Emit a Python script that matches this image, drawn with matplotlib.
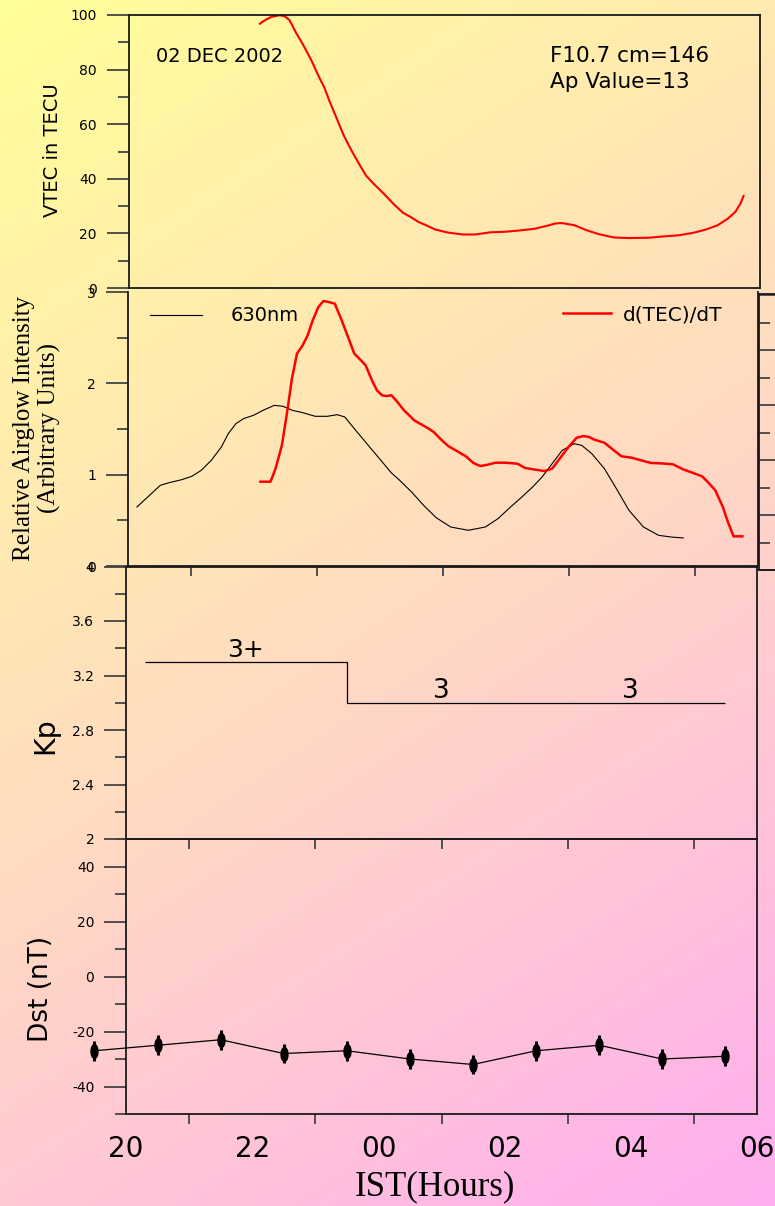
import numpy as np
import matplotlib
matplotlib.use("Agg")
import matplotlib.pyplot as plt
from matplotlib.ticker import MultipleLocator, FixedLocator, FuncFormatter, NullLocator
from matplotlib.colors import LinearSegmentedColormap
from matplotlib.markers import MarkerStyle

plt.rcParams['axes.unicode_minus'] = False
plt.rcParams['font.family'] = ['DejaVu Sans']

W, H, DPI = 775, 1206, 100

# ------------------------------------------------------------------ data
hour_ticks = [20, 22, 24, 26, 28, 30]
hour_labels = ["20", "22", "00", "02", "04", "06"]
odd_hours = [21, 23, 25, 27, 29]

vtec_hours = [22.08, 22.16, 22.26, 22.39, 22.47, 22.55, 22.65, 22.76, 22.90, 23.02,
              23.10, 23.18, 23.29, 23.41, 23.53, 23.65, 23.76, 23.88, 24.04, 24.20,
              24.35, 24.47, 24.59, 24.71, 24.86, 25.06, 25.29, 25.49, 25.73, 25.96,
              26.20, 26.43, 26.63, 26.75, 26.86, 27.06, 27.25, 27.45, 27.69, 27.92,
              28.24, 28.47, 28.71, 28.94, 29.14, 29.33, 29.49, 29.61, 29.69, 29.74]
vtec_values = [96.8, 98.1, 99.3, 99.9, 99.6, 98.1, 93.6, 89.3, 83.2, 77.1,
               73.5, 68.6, 62.5, 55.8, 50.4, 45.5, 41.2, 38.2, 34.6, 30.7,
               27.5, 26.0, 24.2, 23.0, 21.4, 20.3, 19.6, 19.6, 20.4, 20.6,
               21.1, 21.7, 22.8, 23.6, 23.8, 23.0, 21.2, 19.7, 18.5, 18.3,
               18.4, 18.9, 19.3, 20.2, 21.4, 23.0, 25.4, 27.9, 30.9, 33.7]

airglow_hours = [20.15, 20.35, 20.52, 20.66, 20.86, 21.02, 21.17, 21.33, 21.49, 21.60,
                 21.72, 21.84, 22.00, 22.15, 22.33, 22.47, 22.62, 22.78, 22.98, 23.17,
                 23.33, 23.45, 23.60, 23.80, 24.00, 24.19, 24.31, 24.51, 24.70, 24.90,
                 25.13, 25.41, 25.68, 25.88, 26.08, 26.23, 26.43, 26.58, 26.74, 26.90,
                 27.09, 27.21, 27.37, 27.57, 27.76, 27.96, 28.19, 28.43, 28.62, 28.82]
airglow_values = [0.646, 0.774, 0.883, 0.912, 0.945, 0.982, 1.047, 1.157, 1.303, 1.449,
                  1.558, 1.613, 1.650, 1.704, 1.759, 1.748, 1.704, 1.679, 1.639, 1.639,
                  1.657, 1.631, 1.504, 1.339, 1.175, 1.018, 0.945, 0.810, 0.664, 0.529,
                  0.427, 0.391, 0.427, 0.518, 0.646, 0.737, 0.865, 0.974, 1.120, 1.266,
                  1.339, 1.321, 1.230, 1.066, 0.847, 0.609, 0.427, 0.336, 0.318, 0.307]

dtec_hours = [22.11, 22.27, 22.35, 22.45, 22.53, 22.61, 22.69, 22.78, 22.86, 22.94,
              23.03, 23.11, 23.19, 23.29, 23.39, 23.49, 23.60, 23.68, 23.78, 23.88,
              23.96, 24.04, 24.11, 24.19, 24.27, 24.39, 24.47, 24.55, 24.66, 24.78,
              24.86, 24.98, 25.09, 25.21, 25.37, 25.49, 25.60, 25.72, 25.84, 26.00,
              26.19, 26.31, 26.47, 26.62, 26.74, 26.86, 27.00, 27.13, 27.24, 27.33,
              27.41, 27.57, 27.72, 27.84, 28.00, 28.15, 28.31, 28.47, 28.66, 28.82,
              28.98, 29.12, 29.21, 29.33, 29.45, 29.53, 29.62, 29.76]
dtec_values = [0.923, 0.923, 1.066, 1.321, 1.668, 2.051, 2.325, 2.416, 2.526, 2.690,
               2.836, 2.901, 2.891, 2.872, 2.708, 2.526, 2.325, 2.270, 2.197, 2.033,
               1.923, 1.869, 1.861, 1.869, 1.807, 1.704, 1.650, 1.595, 1.551, 1.504,
               1.467, 1.383, 1.314, 1.266, 1.201, 1.128, 1.095, 1.109, 1.131, 1.131,
               1.120, 1.073, 1.055, 1.040, 1.066, 1.175, 1.303, 1.405, 1.423, 1.412,
               1.383, 1.350, 1.266, 1.201, 1.186, 1.157, 1.128, 1.124, 1.113, 1.058,
               1.018, 0.982, 0.920, 0.828, 0.646, 0.482, 0.325, 0.325]

kp_edges = [20.3, 23.5, 26.5, 29.5]
kp_values = [3.3, 3.0, 3.0]
kp_labels = ["3+", "3", "3"]

dst_hours = [19.5, 20.5, 21.5, 22.5, 23.5, 24.5, 25.5, 26.5, 27.5, 28.5, 29.5]
dst_values = [-27, -25, -23, -28, -27, -30, -32, -27, -25, -30, -29]
dst_err = 3.6

# ------------------------------------------------------------------ figure
fig = plt.figure(figsize=(W / DPI, H / DPI), dpi=DPI)


def px_axes(x0, y0, x1, y1, **kw):
    return fig.add_axes([x0 / W, 1 - y1 / H, (x1 - x0) / W, (y1 - y0) / H], **kw)


# background gradient
bg = fig.add_axes([0, 0, 1, 1], zorder=-10)
xx, yy = np.meshgrid(np.linspace(0, 1, 200), np.linspace(0, 1, 300))
grad = 0.3 * xx + 0.7 * yy
cmap = LinearSegmentedColormap.from_list('bg', ['#FFFF99', '#FFDCC0', '#FFADF0'])
bg.imshow(grad, cmap=cmap, aspect='auto', vmin=0, vmax=1, interpolation='bilinear')
bg.set_axis_off()

SPINE_C = '#1a1a1a'
TICK_C = '#444444'
fmt_g = FuncFormatter(lambda v, p: f"{v:g}")


def style_axes(ax, ylim, major, minor):
    ax.set_facecolor('none')
    ax.set_xlim(20, 30)
    ax.set_ylim(*ylim)
    for s in ax.spines.values():
        s.set_color(SPINE_C)
        s.set_linewidth(1.3)
    ax.yaxis.set_major_locator(MultipleLocator(major))
    ax.yaxis.set_minor_locator(MultipleLocator(minor))
    ax.yaxis.set_major_formatter(fmt_g)
    ax.tick_params(axis='y', which='major', direction='out', length=15.8, width=1.3,
                   color=TICK_C, pad=7, labelsize=10)
    ax.tick_params(axis='y', which='minor', direction='out', length=7.9, width=1.3,
                   color=TICK_C)
    ax.xaxis.set_major_locator(NullLocator())
    ax.xaxis.set_minor_locator(FixedLocator(odd_hours))
    ax.tick_params(axis='x', which='minor', direction='out', length=7.5, width=1.3,
                   color=TICK_C)


# ---- panel 1: VTEC
ax1 = px_axes(128.5, 15, 760, 288)
style_axes(ax1, (0, 100), 20, 10)
ax1.xaxis.set_minor_locator(NullLocator())
ax1.plot(vtec_hours, vtec_values, color='#ff0000', lw=1.5)
fig.text(53 / W, 1 - 150 / H, "VTEC in TECU", rotation=90, ha='center', va='center',
         fontsize=14)
fig.text(156 / W, 1 - 62 / H, "02 DEC 2002", ha='left', va='baseline', fontsize=14)
fig.text(549.5 / W, 1 - 62.3 / H, "F10.7 cm=146", ha='left', va='baseline', fontsize=15.5)
fig.text(549.5 / W, 1 - 88.3 / H, "Ap Value=13", ha='left', va='baseline', fontsize=15.5)

# ---- panel 2: airglow + d(TEC)/dT
ax2 = px_axes(127.5, 292, 757.5, 566)
style_axes(ax2, (0, 3), 1, 0.5)
ax2.spines['top'].set_visible(False)
l_air, = ax2.plot(airglow_hours, airglow_values, color='black', lw=0.8)
l_dtec, = ax2.plot(dtec_hours, dtec_values, color='#ff0000', lw=1.8)
leg1 = ax2.legend([l_air], ["630nm"], loc='center left',
                  bbox_to_anchor=(150 / W, 1 - 316 / H), bbox_transform=fig.transFigure,
                  frameon=False, fontsize=14, handlelength=2.66, handletextpad=1.5,
                  borderpad=0, borderaxespad=0)
ax2.add_artist(leg1)
ax2.legend([l_dtec], ["d(TEC)/dT"], loc='center left',
           bbox_to_anchor=(563 / W, 1 - 315 / H), bbox_transform=fig.transFigure,
           frameon=False, fontsize=14.5, handlelength=2.4, handletextpad=0.55,
           borderpad=0, borderaxespad=0)
fig.text(37 / W, 1 - 428 / H, "Relative Airglow Intensity\n(Arbitrary Units)",
         rotation=90, ha='center', va='center', multialignment='center',
         family=['Liberation Serif', 'DejaVu Serif'], fontsize=18)

# right-hand (unlabelled) scale box of panel 2
axr = px_axes(759, 294, 810, 570)
axr.set_facecolor('none')
axr.set_ylim(0, 5.02)
axr.set_xticks([])
axr.spines['right'].set_visible(False)
for s in ('left', 'top', 'bottom'):
    axr.spines[s].set_color(SPINE_C)
    axr.spines[s].set_linewidth(1.3)
axr.yaxis.set_major_locator(MultipleLocator(1))
axr.yaxis.set_minor_locator(MultipleLocator(0.5))
axr.tick_params(axis='y', which='major', direction='in', length=13, width=1.3,
                color=TICK_C, labelleft=False)
axr.tick_params(axis='y', which='minor', direction='in', length=8, width=1.3,
                color=TICK_C)

# ---- panel 3: Kp
ax3 = px_axes(126, 566.5, 757, 839)
style_axes(ax3, (2, 4), 0.4, 0.2)
ax3.stairs(kp_values, kp_edges, baseline=None, color='black', lw=0.9)
for i, lbl in enumerate(kp_labels):
    xc = 0.5 * (kp_edges[i] + kp_edges[i + 1])
    ax3.annotate(lbl, xy=(xc, kp_values[i]), xytext=(0, 3.5), textcoords='offset points',
                 ha='center', va='baseline', fontsize=18 if '+' in lbl else 19)
fig.text(45.5 / W, 1 - 736 / H, "Kp", rotation=90, ha='center', va='center', fontsize=20.5)

# ---- panel 4: Dst
ax4 = px_axes(126, 839, 757, 1114)
style_axes(ax4, (-50, 50), 20, 10)
ax4.xaxis.set_major_locator(FixedLocator(hour_ticks))
ax4.set_xticklabels(hour_labels)
ax4.tick_params(axis='x', which='major', length=0, pad=15, labelsize=20)
ax4.plot(dst_hours, dst_values, color='black', lw=0.9, clip_on=False, zorder=3)
ax4.errorbar(dst_hours, dst_values, yerr=dst_err, fmt='none', ecolor='black',
             elinewidth=2.2, capsize=0, clip_on=False, zorder=4)
theta = np.linspace(0, 2 * np.pi, 40)
ellipse = MarkerStyle(np.column_stack([0.5 * np.cos(theta), np.sin(theta)]))
ax4.plot(dst_hours, dst_values, linestyle='none', marker=ellipse, markersize=10,
         color='black', clip_on=False, zorder=5)
fig.text(41 / W, 1 - 989 / H, "Dst (nT)", rotation=90, ha='center', va='center', fontsize=19)
fig.text(435 / W, 1 - 1186.5 / H, "IST(Hours)", ha='center', va='center',
         family=['Liberation Serif', 'DejaVu Serif'], fontsize=25)

fig.savefig("out.png", dpi=DPI)
